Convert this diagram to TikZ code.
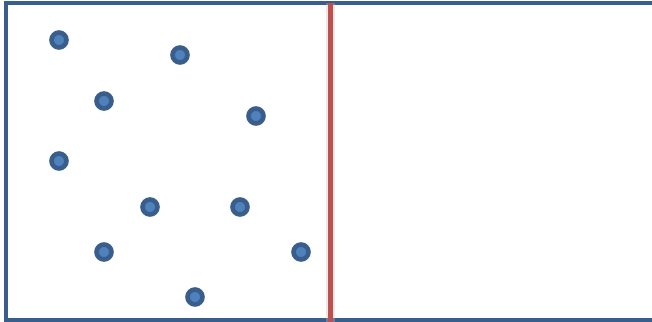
\documentclass[tikz,border=0pt]{standalone}
\usepackage{xcolor}
\usepackage{tikz}
\usetikzlibrary{positioning,calc}
\definecolor{panelblue}{HTML}{3A5E8C}
\definecolor{dotblue}{HTML}{4F81BD}
\definecolor{splitred}{HTML}{C0504D}
\definecolor{shadowgrey}{HTML}{BFBFBF}
\tikzset{
  panel/.style={draw=panelblue, line width=3pt},
  particle/.style={
    circle, draw=panelblue, fill=dotblue, line width=3.3pt,
    minimum size=10.6pt, inner sep=0pt
  },
  divider/.style={draw=splitred, line width=3.6pt},
  dividershadow/.style={draw=shadowgrey, line width=7pt, opacity=0.35},
}
\begin{document}
\begin{tikzpicture}[x=0.025cm, y=-0.025cm]
  \useasboundingbox (0,0) rectangle (652,322);
  \clip (0,0) rectangle (652,322);

  % container (right side runs off the page)
  \coordinate (tl) at (6,3);
  \coordinate (br) at (670,320);
  \draw[panel] (tl) rectangle (br);

  % partition wall
  \coordinate (wtop) at (330.5,3);
  \coordinate (wbot) at (330.5,322);
  \draw[dividershadow] (wtop) -- (wbot);
  \draw[divider] (wtop) -- (wbot);

  % gas particles, all in the left half
  \foreach \name/\px/\py in {p1/59/40, p2/180/55, p3/104/101, p4/256/116,
                             p5/59/161, p6/150/207, p7/240/207,
                             p8/104/252, p9/301/252, p10/195/297} {
    \node[particle] (\name) at (\px,\py) {};
  }
\end{tikzpicture}
\end{document}
